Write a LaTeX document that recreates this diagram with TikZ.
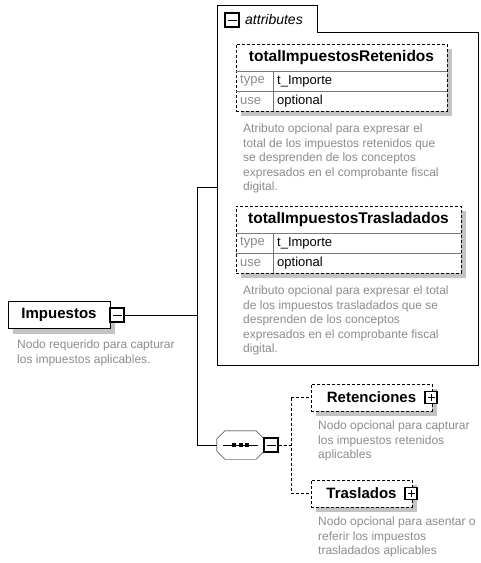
\documentclass[tikz,border=0pt]{standalone}
\usepackage{fontspec}
\setmainfont{Liberation Sans}
\usetikzlibrary{shadows}
\definecolor{descGray}{RGB}{140,140,140}
\definecolor{shadowGray}{RGB}{195,195,195}
\definecolor{rowGray}{RGB}{120,120,120}

\begin{document}
\begin{tikzpicture}
            [x=1pt, y=-1pt,
             elemBox/.style={rectangle,
                        draw,
                        fill=white,
                        inner sep=0pt,
                        minimum height=27pt,
                        font=\fontsize{15}{18}\selectfont\bfseries,
                        drop shadow={shadow xshift=5pt, shadow yshift=-5pt, fill=shadowGray, opacity=1}},
             optBox/.style={elemBox, dash pattern=on 3pt off 2pt},
             toggleBox/.style={rectangle, draw, fill=white, line width=1.2pt,
                        inner sep=0pt, minimum size=12pt},
             minusBox/.style={toggleBox,
                        path picture={\draw[line width=0.9pt] ([xshift=2.5pt]path picture bounding box.west) -- ([xshift=-2.5pt]path picture bounding box.east);}},
             plusBox/.style={minusBox,
                        path picture={\draw[line width=0.9pt] ([xshift=2.5pt]path picture bounding box.west) -- ([xshift=-2.5pt]path picture bounding box.east);
                                      \draw[line width=0.9pt] ([yshift=2.5pt]path picture bounding box.south) -- ([yshift=-2.5pt]path picture bounding box.north);}},
             descText/.style={text=descGray, font=\fontsize{12}{14.5}\selectfont,
                        align=left, anchor=north west, inner sep=0pt},
             attrName/.style={font=\fontsize{15.5}{18}\selectfont\bfseries, inner sep=0pt},
             keyText/.style={text=descGray, font=\fontsize{13}{15}\selectfont, anchor=west, inner sep=0pt},
             valText/.style={font=\fontsize{13}{15}\selectfont, anchor=west, inner sep=0pt},
             rowLine/.style={rowGray, line width=0.6pt}]

            \useasboundingbox (0,0) rectangle (481,563);

            % attributes container
            \draw[fill=white] (217,365) -- (217,5) -- (317,5) -- (317,32) -- (478,32) -- (478,365) -- cycle;
            \coordinate (attrIn) at (217,187);
            \node[minusBox, minimum size=14pt] (attrMinus) at (232,20) {};
            \node[font=\fontsize{14}{16}\selectfont\itshape, anchor=west, inner sep=0pt] (attrLabel) at (245,19) {attributes};

            % totalImpuestosRetenidos
            \node[optBox, minimum width=211pt, minimum height=67pt] (retBox) at (341.5,77.5) {};
            \draw[rowLine] (retBox.west |- 0,71) -- (retBox.east |- 0,71);
            \draw[rowLine] (retBox.west |- 0,91) -- (retBox.east |- 0,91);
            \draw[rowLine] (273,71) -- (273,111);
            \node[attrName] (retName) at (341.5,57.5) {totalImpuestosRetenidos};
            \node[keyText] (retTypeKey) at (240,81) {type};
            \node[valText] (retTypeVal) at (277,81) {t\_Importe};
            \node[keyText] (retUseKey) at (240,101) {use};
            \node[valText] (retUseVal) at (277,101) {optional};
            \node[descText] (retDesc) at (243,124) {Atributo opcional para expresar el\\total de los impuestos retenidos que\\se desprenden de los conceptos\\expresados en el comprobante fiscal\\digital.};

            % totalImpuestosTrasladados
            \node[optBox, minimum width=225pt, minimum height=67pt] (trasBox) at (348.5,239.5) {};
            \draw[rowLine] (trasBox.west |- 0,233) -- (trasBox.east |- 0,233);
            \draw[rowLine] (trasBox.west |- 0,253) -- (trasBox.east |- 0,253);
            \draw[rowLine] (273,233) -- (273,273);
            \node[attrName] (trasName) at (348.5,219.5) {totalImpuestosTrasladados};
            \node[keyText] (trasTypeKey) at (240,243) {type};
            \node[valText] (trasTypeVal) at (277,243) {t\_Importe};
            \node[keyText] (trasUseKey) at (240,263) {use};
            \node[valText] (trasUseVal) at (277,263) {optional};
            \node[descText] (trasDesc) at (243,286) {Atributo opcional para expresar el total\\de los impuestos trasladados que se\\desprenden de los conceptos\\expresados en el comprobante fiscal\\digital.};

            % Impuestos
            \node[elemBox, minimum width=102pt] (impuestos) at (59,315) {Impuestos};
            \node[minusBox, minimum size=14pt] (impMinus) at (117,315) {};
            \node[descText] (impDesc) at (17,340) {Nodo requerido para capturar\\los impuestos aplicables.};

            % sequence
            \node[minimum width=47pt, minimum height=28pt, inner sep=0pt] (seq) at (240.5,445) {};
            \fill[shadowGray, shift={(5,5)}] ([xshift=8]seq.north west) -- ([xshift=-8]seq.north east)
                -- ([yshift=-8]seq.north east) -- ([yshift=8]seq.south east) -- ([xshift=-8]seq.south east)
                -- ([xshift=8]seq.south west) -- ([yshift=8]seq.south west) -- ([yshift=-8]seq.north west) -- cycle;
            \draw[fill=white] ([xshift=8]seq.north west) -- ([xshift=-8]seq.north east)
                -- ([yshift=-8]seq.north east) -- ([yshift=8]seq.south east) -- ([xshift=-8]seq.south east)
                -- ([xshift=8]seq.south west) -- ([yshift=8]seq.south west) -- ([yshift=-8]seq.north west) -- cycle;
            \draw (seq.west) ++(6,0) -- ++(35,0);
            \foreach \dx in {234,240.5,247}
                \fill (\dx,445) +(-2,-2) rectangle +(2,2);
            \node[minusBox, minimum size=14pt] (seqMinus) at (271,445) {};

            \coordinate (hubTop) at (197,187);
            \coordinate (hubMid) at (197,315);
            \coordinate (hubBot) at (197,445);
            \draw (impMinus.east) to (hubMid);
            \draw (hubTop) to (hubBot);
            \draw (hubTop) to (attrIn);
            \draw (hubBot) to (seq.west);

            % choices
            \node[optBox, minimum width=121pt] (retenciones) at (371.5,397.5) {Retenciones\hspace{8pt}};
            \node[plusBox] (retPlus) at (431,397.5) {};
            \node[descText] (retElemDesc) at (318,421) {Nodo opcional para capturar\\los impuestos retenidos\\aplicables};

            \node[optBox, minimum width=101pt] (traslados) at (361.5,493.5) {Traslados\hspace{8pt}};
            \node[plusBox] (trasPlus) at (411,493.5) {};
            \node[descText] (trasElemDesc) at (318,517) {Nodo opcional para asentar o\\referir los impuestos\\trasladados aplicables};

            \coordinate (choiceTop) at (291,397.5);
            \coordinate (choiceMid) at (291,445);
            \coordinate (choiceBot) at (291,493.5);
            \draw[dash pattern=on 3pt off 2pt] (seqMinus.east) to (choiceMid);
            \draw[dash pattern=on 3pt off 2pt] (choiceTop) to (choiceBot);
            \draw[dash pattern=on 3pt off 2pt] (choiceTop) to (retenciones.west);
            \draw[dash pattern=on 3pt off 2pt] (choiceBot) to (traslados.west);
        \end{tikzpicture}
\end{document}
